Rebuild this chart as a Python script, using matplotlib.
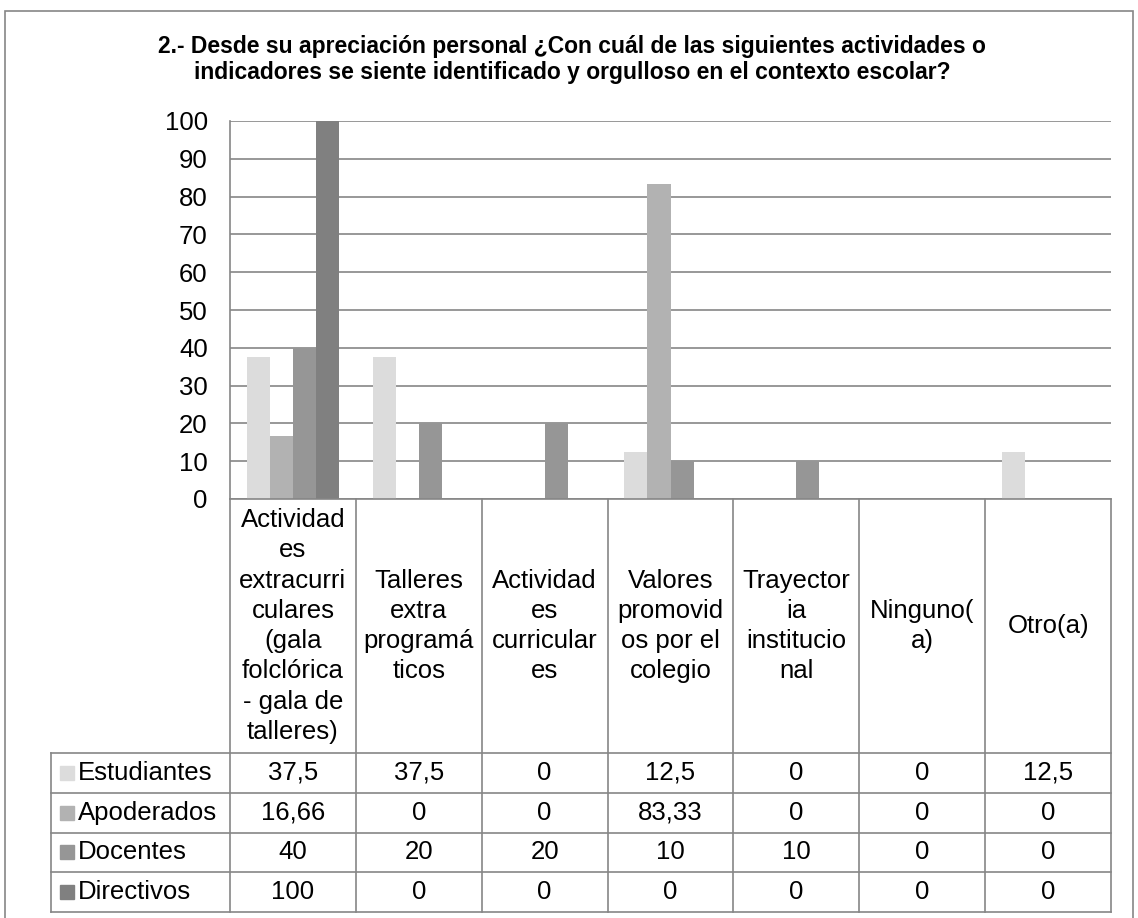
import matplotlib
matplotlib.use("Agg")
import matplotlib.pyplot as plt
import numpy as np

plt.rcParams['font.family'] = ['Liberation Sans', 'DejaVu Sans']

# data
categorias = ["Actividad\nes\nextracurri\nculares\n(gala\nfolclórica\n- gala de\ntalleres)",
              "Talleres\nextra\nprogramá\nticos",
              "Actividad\nes\ncurricular\nes",
              "Valores\npromovid\nos por el\ncolegio",
              "Trayector\nia\ninstitucio\nnal",
              "Ninguno(\na)",
              "Otro(a)"]
series = ["Estudiantes", "Apoderados", "Docentes", "Directivos"]
estudiantes = [37.5, 37.5, 0, 12.5, 0, 0, 12.5]
apoderados = [16.66, 0, 0, 83.33, 0, 0, 0]
docentes = [40, 20, 20, 10, 10, 0, 0]
directivos = [100, 0, 0, 0, 0, 0, 0]
valores = [estudiantes, apoderados, docentes, directivos]
colores = ["#dcdcdc", "#b2b2b2", "#969696", "#808080"]
titulo = ("2.- Desde su apreciación personal ¿Con cuál de las siguientes actividades o\n"
          "indicadores se siente identificado y orgulloso en el contexto escolar?")

W, H = 1138, 918
fig = plt.figure(figsize=(W / 100, H / 100), dpi=100)
gris = "#868686"
fs = 18.5

# outer frame
fig.add_artist(plt.Rectangle((5 / W, -0.01), 1128 / W, (H - 11) / H + 0.01,
                             fill=False, edgecolor=gris, lw=1.2, transform=fig.transFigure))

fig.text(572 / W, 1 - 59.5 / H, titulo, ha='center', va='center', fontsize=16.5,
         fontweight='bold', linespacing=1.15)

# plot area
x0, x1, ytop, ybot = 230, 1111, 121, 499
ax = fig.add_axes([x0 / W, 1 - ybot / H, (x1 - x0) / W, (ybot - ytop) / H])
n = len(categorias)
x = np.arange(n)
bw = 0.183
for i, (nombre, v) in enumerate(zip(series, valores)):
    ax.bar(x + (i - 1.5) * bw, v, width=bw, color=colores[i], zorder=3)
ax.set_xlim(-0.5, n - 0.5)
ax.set_ylim(0, 100)
ax.set_yticks(range(0, 101, 10))
ax.yaxis.grid(True, color=gris, lw=1.2, zorder=0)
ax.tick_params(axis='y', length=0, labelsize=fs, pad=16)
ax.tick_params(axis='x', length=0, labelbottom=False)
for s in ['top', 'right', 'bottom']:
    ax.spines[s].set_visible(False)
ax.spines['left'].set_color(gris)
ax.spines['left'].set_linewidth(1.2)

# data table
tb = fig.add_axes([x0 / W, 1 - 912 / H, (x1 - x0) / W, (912 - ybot) / H])
tb.set_xlim(-0.5, n - 0.5)
tb.set_ylim(912 - ybot, 0)
tb.axis('off')
hdr = 254
rowh = 39.75
leftx = -0.5 - (x0 - 51) / ((x1 - x0) / n)
lk = dict(color=gris, lw=1.2, clip_on=False)
tb.plot([-0.5, n - 0.5], [0, 0], **lk)
for j in range(len(series) + 1):
    yy = hdr + j * rowh
    tb.plot([leftx, n - 0.5], [yy, yy], **lk)
for k in range(n + 1):
    tb.plot([k - 0.5, k - 0.5], [0, hdr + len(series) * rowh], **lk)
tb.plot([leftx, leftx], [hdr, hdr + len(series) * rowh], **lk)

for k, c in enumerate(categorias):
    tb.text(k, hdr / 2, c, ha='center', va='center', fontsize=fs, linespacing=1.33)
for j, (nombre, v) in enumerate(zip(series, valores)):
    yc = hdr + j * rowh + rowh / 2
    tb.add_patch(plt.Rectangle((leftx + 0.075, yc - 7), 0.105, 14, color=colores[j],
                               clip_on=False))
    tb.text(leftx + 0.215, yc, nombre, ha='left', va='center', fontsize=fs)
    for k in range(n):
        tb.text(k, yc, f"{v[k]:g}".replace('.', ','), ha='center', va='center', fontsize=fs)

fig.savefig("out.png", dpi=100)
